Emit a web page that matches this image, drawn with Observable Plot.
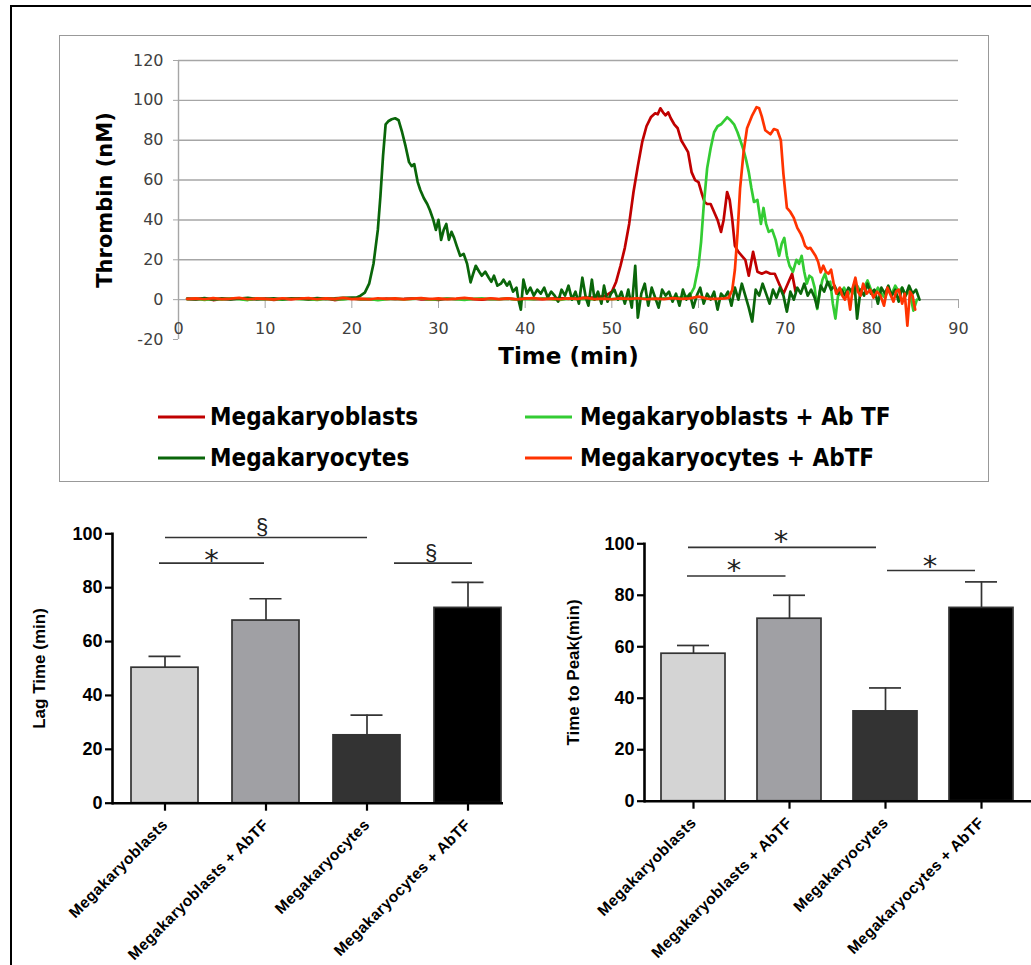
<!DOCTYPE html>
<html><head><meta charset="utf-8">
<script src="https://cdn.jsdelivr.net/npm/d3@7"></script>
<script src="https://cdn.jsdelivr.net/npm/@observablehq/plot@0.6"></script>
<style>
html,body{margin:0;padding:0;background:#fff;}
#page{position:relative;width:1031px;height:965px;overflow:hidden;background:#fff;}
.abs{position:absolute;}
#outer{left:10px;top:5px;width:1100px;height:1100px;border:2.5px solid #000;box-sizing:border-box;}
#topbox{left:59px;top:35px;width:930px;height:447px;border:1.5px solid #999;box-sizing:border-box;}
.leg{position:absolute;font-family:"DejaVu Sans Condensed","DejaVu Sans",sans-serif;font-weight:bold;font-size:24px;color:#000;white-space:nowrap;line-height:24px;transform:translateY(-50%);}
.sw{position:absolute;height:3px;width:47px;transform:translateY(-50%);}
svg{overflow:visible;}
#lagchart g[aria-label="x-axis tick label"] text, #peakchart g[aria-label="x-axis tick label"] text{letter-spacing:0.4px;}
</style></head><body><div id="page">
<div id="outer" class="abs"></div>
<div id="topbox" class="abs"></div>
<div id="topchart" class="abs" style="left:59px;top:36px;"></div>
<div id="legend" class="abs" style="left:0;top:0;"></div>
<div id="lagchart" class="abs" style="left:0;top:500px;"></div>
<div id="peakchart" class="abs" style="left:520px;top:500px;"></div>
</div>
<script>
// ---------- Top panel: thrombin generation curves ----------
const xTicks = [0,10,20,30,40,50,60,70,80,90];
const yTicks = [-20,0,20,40,60,80,100,120];
const gridTicks = [0,20,40,60,80,100,120];
const seriesNames = ["Megakaryoblasts","Megakaryoblasts + Ab TF","Megakaryocytes","Megakaryocytes + AbTF"];
const seriesColors = ["#c00000","#33cc33","#0a660a","#ff3300"];

const megakaryoblasts = [[1,0.3],[2,0.1],[3,0.5],[4,-0.2],[5,0.4],[6,0.2],[7,0.6],[8,0],[9,0.3],[10,0.5],[11,-0.1],[12,0.4],[13,0.2],[14,0.7],[15,0.1],[16,0.3],[17,0.5],[18,-0.2],[19,0.4],[20,0.6],[21,0.1],[22,0.3],[23,0],[24,0.5],[25,0.2],[26,0.4],[27,0.7],[28,0.1],[29,0.3],[30,-0.1],[31,0.5],[32,0.2],[33,0.6],[34,0.3],[35,0],[36,0.4],[37,0.2],[38,0.5],[39,0.1],[40,0.6],[41,0.3],[42,0.2],[43,0.5],[44,0.8],[45,0.4],[46,0.7],[47,1.0],[48,1.2],[49,1.6],[49.5,2.5],[50,4],[50.5,9],[51,17],[51.5,26],[52,38],[52.5,54],[53,67],[53.5,79],[54,87],[54.5,91.5],[55,93.5],[55.3,93],[55.6,96],[55.9,94],[56.2,92.5],[56.5,94],[56.8,91],[57.2,88],[57.6,86],[58,80],[58.4,77],[58.8,74],[59.2,64],[59.6,60],[60,59],[60.4,53],[60.7,49],[61,48],[61.4,48],[61.8,44],[62.2,40],[62.6,34],[62.9,40],[63.3,54],[63.6,50],[63.9,40],[64.2,27],[64.6,24],[65,22],[65.4,20],[65.8,12],[66.3,24],[66.8,14],[67.3,13],[67.8,14],[68.3,13],[68.8,13],[69.3,8],[69.8,3],[70.4,9],[70.8,13],[71.2,4]];

const megakaryoblastsAbTF = [[1,0.2],[2,0.5],[3,-0.1],[4,0.4],[5,0.1],[6,0.6],[7,0.3],[8,-0.2],[9,0.5],[10,0.2],[11,0.4],[12,0],[13,0.6],[14,0.2],[15,0.3],[16,-0.1],[17,0.5],[18,0.3],[19,0.1],[20,0.6],[21,0.2],[22,0.4],[23,-0.2],[24,0.3],[25,0.5],[26,0.1],[27,0.4],[28,0.6],[29,0],[30,0.3],[31,0.5],[32,0.2],[33,-0.1],[34,0.4],[35,0.6],[36,0.2],[37,0.3],[38,0.5],[39,0],[40,0.4],[41,0.2],[42,0.6],[43,0.3],[44,-0.2],[45,0.5],[46,0.2],[47,0.4],[48,0.1],[49,0.6],[50,0.3],[51,0.5],[52,0.2],[53,0.4],[54,0.7],[55,0.3],[56,0.6],[57,0.9],[58,1.2],[59,2],[59.5,6],[60,17],[60.3,29],[60.6,47],[61,66],[61.4,76],[61.8,84],[62.2,87],[62.6,88],[63,90],[63.3,91.5],[63.7,90],[64.1,88],[64.5,84],[64.9,79],[65.2,75],[65.5,70],[65.8,64],[66.1,56],[66.4,49],[66.8,50],[67.2,38],[67.5,46],[67.8,38],[68.1,34],[68.5,35],[68.9,30],[69.3,22],[69.6,28],[69.9,31],[70.2,22],[70.5,17],[70.9,14],[71.3,20],[71.6,18],[71.9,22],[72.2,14],[72.5,8],[72.8,12],[73.1,11],[73.4,6],[73.7,-4.7],[74,4],[74.3,10],[74.6,13],[74.9,8],[75.2,9],[75.5,-2],[75.8,-9.5],[76.1,2],[76.4,3],[76.8,6],[77.2,2],[77.6,5],[78,3],[78.3,7],[78.7,4],[79.1,6],[79.5,9.6],[79.9,5],[80.3,2],[80.7,6],[81.1,3],[81.5,1],[81.9,5],[82.3,3],[82.7,7],[83.1,4],[83.5,6],[83.9,2],[84.3,5],[84.8,-5.5],[85.2,0]];

const megakaryocytes = [[1,0.5],[2,0.3],[3,0.8],[4,0.2],[5,0.6],[6,0.1],[7,0.5],[8,0.9],[9,0.3],[10,0.4],[11,0.7],[12,0.2],[13,0.6],[14,0.5],[15,0.3],[16,0.8],[17,0.4],[18,0.6],[19,0.9],[20,1.0],[20.5,1],[21,2],[21.5,3.5],[22,8],[22.5,18],[23,35],[23.3,52],[23.6,72],[23.9,88],[24.2,89.5],[24.6,90.5],[25,91],[25.4,90],[25.8,84],[26.2,77],[26.6,69],[26.9,67],[27.2,68],[27.6,59],[27.9,55],[28.3,51],[28.7,48],[29,45],[29.4,40],[29.7,35],[30,40],[30.3,30],[30.6,35],[30.9,38],[31.2,30],[31.5,34],[31.8,31],[32.1,27],[32.5,22],[32.9,23],[33.3,18],[33.7,8.7],[34,13],[34.3,17],[34.7,14],[35,12],[35.4,14],[35.8,11],[36.1,9],[36.4,12],[36.8,7],[37.2,8],[37.5,10],[37.9,7],[38.2,9],[38.6,4],[39,6],[39.2,0.5],[39.5,-5],[39.8,10],[40.2,3],[40.6,6],[41,2],[41.4,5],[41.8,3],[42.2,6],[42.6,1],[43,4],[43.4,2],[43.8,-1],[44.2,5],[44.6,2],[45,7],[45.4,0],[45.8,4],[46.2,-2],[46.6,11],[47,1],[47.3,-3],[47.7,10],[48,0],[48.4,4],[48.8,-2],[49.1,7],[49.5,-1],[49.9,3],[50.3,5],[50.7,0],[51.1,4],[51.5,-2],[51.9,5],[52.3,-4],[52.7,17],[53,-9],[53.4,3],[53.8,8],[54.2,-3],[54.6,6],[55,1],[55.4,-4],[55.8,5],[56.2,2],[56.6,4],[57,-1],[57.4,3],[57.8,-3],[58.2,5],[58.6,0],[59,3],[59.4,-4],[59.8,2],[60.2,6],[60.6,-2],[61,3],[61.4,0],[61.8,4],[62.2,-5],[62.6,3],[63,1],[63.4,4],[63.8,-3],[64.2,6],[64.6,0],[65,8],[65.4,2],[65.8,-4],[66.2,-11],[66.6,5],[67,2],[67.4,8],[67.8,3],[68.2,-2],[68.6,5],[69,1],[69.4,6],[69.8,2],[70.2,-6],[70.6,4],[71,0],[71.4,6],[71.8,3],[72.2,8],[72.6,2],[73,5],[73.4,1],[73.7,-4],[74.1,7],[74.5,4],[74.9,9],[75.3,5],[75.7,7],[76.1,3],[76.5,5],[76.9,2],[77.3,6],[77.7,4],[78,8],[78.3,-9.5],[78.7,5],[79.1,2],[79.5,8],[79.9,3],[80.3,5],[80.7,-2],[81.1,6],[81.5,3],[81.9,7],[82.3,2],[82.7,5],[83.1,-1],[83.5,6],[83.9,2],[84.3,7],[84.7,3],[85.1,5],[85.5,0]];

const megakaryocytesAbTF = [[1,0.4],[2,0.6],[3,0.2],[4,0.8],[5,0.3],[6,0.5],[7,0.9],[8,0.2],[9,0.6],[10,0.4],[11,0.1],[12,0.7],[13,0.3],[14,0.5],[15,0.8],[16,0.2],[17,0.6],[18,0.4],[19,0.9],[20,0.3],[21,0.5],[22,0.2],[23,0.7],[24,0.4],[25,0.6],[26,0.1],[27,0.5],[28,0.8],[29,0.3],[30,0.6],[31,0.2],[32,0.5],[33,0.9],[34,0.4],[35,0.2],[36,0.7],[37,0.3],[38,0.6],[39,0.1],[40,0.5],[41,0.8],[42,0.3],[43,0.5],[44,0.2],[45,0.6],[46,0.4],[47,0.9],[48,0.3],[49,0.5],[50,0.2],[51,0.6],[52,0.4],[53,0.7],[54,0.2],[55,0.5],[56,0.3],[57,0.8],[58,0.4],[59,0.6],[60,1.5],[61,0.5],[62,0.4],[63,0.6],[63.5,1],[63.9,5],[64.2,15],[64.5,33],[64.8,56],[65.2,74],[65.6,86],[66.2,92.5],[66.7,96.6],[67,96],[67.3,92],[67.7,85],[68,84],[68.3,83],[68.7,85.6],[69.1,85],[69.5,80],[69.8,63],[70.2,46],[70.6,44],[71,41],[71.4,36],[71.8,33],[72,31],[72.3,27],[72.6,25.6],[72.9,26],[73.2,24],[73.5,22],[73.8,19],[74.1,13.7],[74.4,17],[74.7,14],[75,13],[75.3,15],[75.6,8],[75.9,3],[76.3,6],[76.6,2],[76.9,0],[77.2,4],[77.5,-5],[77.8,6],[78.1,11],[78.4,4],[78.7,2],[79,8],[79.4,3],[79.8,5],[80.2,1],[80.6,4],[81,2],[81.4,-3],[81.8,6],[82.1,3],[82.5,-1],[82.8,4],[83.1,5],[83.5,-2],[83.8,3],[84.1,-13],[84.4,4],[84.7,2],[85,-5]];

// ---------- Bottom panels ----------
const groups = ["Megakaryoblasts","Megakaryoblasts + AbTF","Megakaryocytes","Megakaryocytes + AbTF"];
const barFill = ["#d4d4d4","#a0a0a4","#333333","#000000"];
const lagMean = [50.3, 67.8, 25.2, 72.5];
const lagErr = [4.2, 8.1, 7.5, 9.5];
const peakMean = [57.3, 70.9, 34.9, 75.1];
const peakErr = [3.2, 9.1, 9.1, 10.1];
const barTicks = [0,20,40,60,80,100];
const lagBrackets = [
  {from: groups[0], to: groups[2], y: 98.6, label: "§"},
  {from: groups[0], to: groups[1], y: 89.1, label: "*"},
  {from: groups[2], to: groups[3], y: 89.1, label: "§"}
];
const peakBrackets = [
  {from: groups[0], to: groups[2], y: 98.6, label: "*"},
  {from: groups[0], to: groups[1], y: 87.5, label: "*"},
  {from: groups[2], to: groups[3], y: 89.6, label: "*"}
];

// ---------- Draw top chart ----------
const seriesData = [megakaryoblasts, megakaryoblastsAbTF, megakaryocytes, megakaryocytesAbTF];
const lineMarks = seriesData.map((arr, k) => Plot.line(arr, {x: d => d[0], y: d => d[1], stroke: seriesColors[k], strokeWidth: 2.7, strokeLinejoin: "round", curve: "linear"}));

const topChart = Plot.plot({
  width: 929, height: 345,
  marginLeft: 119, marginRight: 30, marginTop: 24, marginBottom: 42,
  x: {domain: [0, 90]},
  y: {domain: [-20, 120]},
  style: {fontFamily: "DejaVu Sans, sans-serif", fontSize: "16px", background: "transparent", color: "#000"},
  marks: [
    Plot.gridY(gridTicks, {stroke: "#a6a6a6", strokeOpacity: 1, strokeWidth: 1.4}),
    Plot.ruleX([0], {stroke: "#a6a6a6", strokeWidth: 1.4}),
    Plot.axisY(yTicks, {tickSize: 5, tickPadding: 10, tickFormat: d => String(d), stroke: "#a6a6a6", fill: "#404040", fontSize: 16, label: null}),
    Plot.axisX(xTicks, {tickSize: 9, tickPadding: 14, dy: -40, tickFormat: d => String(d), stroke: "#a6a6a6", fill: "#404040", fontSize: 16, label: null}),
    ...lineMarks,
    Plot.text(["Time (min)"], {frameAnchor: "bottom", dy: 24, fontWeight: "bold", fontSize: 23}),
    Plot.text(["Thrombin (nM)"], {frameAnchor: "left", textAnchor: "middle", dx: -73, rotate: -90, fontWeight: "bold", fontSize: 21})
  ]
});
document.getElementById("topchart").appendChild(topChart);

// Legend
const legendSwatch = [[158, 417], [525, 417], [158, 458], [525, 458]];
const legendTextX = [210, 580, 210, 580];
const legend = document.getElementById("legend");
seriesNames.forEach((name, k) => {
  const [lx, ly] = legendSwatch[k];
  const sw = document.createElement("div");
  sw.className = "sw";
  sw.style.left = lx + "px"; sw.style.top = ly + "px"; sw.style.background = seriesColors[k];
  legend.appendChild(sw);
  const tx = document.createElement("div");
  tx.className = "leg";
  tx.style.left = legendTextX[k] + "px"; tx.style.top = ly + "px";
  tx.textContent = name;
  legend.appendChild(tx);
});

// ---------- Bar charts ----------
const labelStyle = {
  "*": {fontFamily: "DejaVu Sans, sans-serif", fontSize: 29, fontWeight: "normal"},
  "§": {fontFamily: "Liberation Sans, Arial, sans-serif", fontSize: 22, fontWeight: "normal"}
};
function barChart({means, errs, brackets, insets, labelDx, labelDy, yLabel, yLabelDx, width, marginLeft, marginRight, marginTop, marginBottom, xOpts, capInset}) {
  const rows = groups.map((g, i) => ({group: g, mean: means[i], top: means[i] + errs[i], fill: barFill[i]}));
  const marks = [
    Plot.ruleX(rows, {x: "group", y1: "mean", y2: "top", stroke: "#333", strokeWidth: 1.7}),
    Plot.tickY(rows, {x: "group", y: "top", stroke: "#333", strokeWidth: 1.7, insetLeft: capInset, insetRight: capInset}),
    Plot.barY(rows, {x: "group", y: "mean", fill: "fill", stroke: "#333", strokeWidth: 1.7}),
    Plot.axisY(barTicks, {tickSize: 7, tickPadding: 3, strokeWidth: 2.2, fontSize: 18, fontWeight: "bold", label: null}),
    Plot.axisX(groups, {tickSize: 8, tickPadding: 11, tickRotate: -45, strokeWidth: 2.2, fontSize: 15.5, fontWeight: "bold", label: null}),
    Plot.frame({anchor: "left", strokeWidth: 2.6}),
    Plot.ruleY([0], {strokeWidth: 2.6}),
    Plot.text([yLabel], {frameAnchor: "left", textAnchor: "middle", dx: yLabelDx, rotate: -90, fontWeight: "bold", fontSize: 17})
  ];
  brackets.forEach((b, i) => {
    marks.push(Plot.ruleY([b], {x1: "from", x2: "to", y: "y", insetLeft: insets[i][0], insetRight: insets[i][1], stroke: "#333", strokeWidth: 1.6}));
    marks.push(Plot.text([b], {x: "from", y: "y", text: "label", dx: labelDx[i], dy: labelDy[i], fill: "#222", ...labelStyle[b.label]}));
  });
  return Plot.plot({
    width, height: 465, marginLeft, marginRight, marginTop, marginBottom,
    x: {domain: groups, ...xOpts, label: null},
    y: {domain: [0, 100], label: null},
    color: {type: "identity"},
    style: {fontFamily: "Liberation Sans, Arial, sans-serif", background: "transparent", color: "#000"},
    marks
  });
}

document.getElementById("lagchart").appendChild(barChart({
  means: lagMean, errs: lagErr, brackets: lagBrackets,
  insets: [[34, 33], [28, 35], [61, 29]],
  labelDx: [97, 46.5, 64], labelDy: [-11, -2, -10],
  yLabel: "Lag Time (min)", yLabelDx: -73,
  width: 510, marginLeft: 112, marginRight: 7, marginTop: 33.3, marginBottom: 162.3,
  xOpts: {paddingInner: 0.34, paddingOuter: 0.1, align: 0.89}, capInset: 17.5
}));

document.getElementById("peakchart").appendChild(barChart({
  means: peakMean, errs: peakErr, brackets: peakBrackets,
  insets: [[27, 41], [26, 35.5], [34, 38]],
  labelDx: [87.5, 40.5, 44.5], labelDy: [-6, -5.5, -4.2],
  yLabel: "Time to Peak(min)", yLabelDx: -71,
  width: 511, marginLeft: 124, marginRight: 0, marginTop: 43.3, marginBottom: 164.3,
  xOpts: {paddingInner: 0.33, paddingOuter: 0.174, align: 0.5}, capInset: 16
}));
</script>
</body></html>
